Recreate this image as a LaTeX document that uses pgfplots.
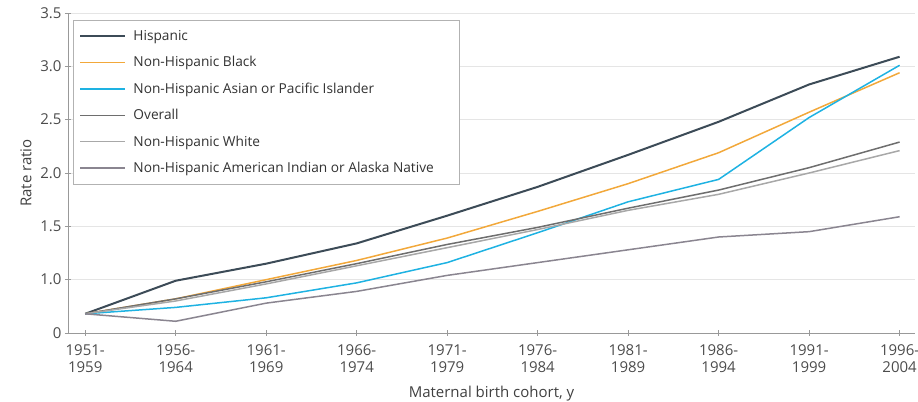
\documentclass[border=0pt]{standalone}
\usepackage{pgfplots}
\pgfplotsset{compat=1.18}
\usepackage{fontspec}
\setmainfont{Open Sans}
\definecolor{hisp}{HTML}{3C4B57}
\definecolor{blk}{HTML}{F2A83A}
\definecolor{asn}{HTML}{1EB2E2}
\definecolor{ovr}{HTML}{6E6E6E}
\definecolor{wht}{HTML}{A8A8A8}
\definecolor{aian}{HTML}{8A8590}
\begin{document}
\begin{tikzpicture}
\begin{axis}[
  scale only axis, width=847pt, height=320pt,
  xmin=-0.19, xmax=9.17, ymin=0.5, ymax=3.5,
  axis lines=left, axis line style={gray!80, line width=0.8pt, -},
  xtick={0,...,9},
  xticklabels={{1951-\\1959},{1956-\\1964},{1961-\\1969},{1966-\\1974},{1971-\\1979},{1976-\\1984},{1981-\\1989},{1986-\\1994},{1991-\\1999},{1996-\\2004}},
  xticklabel style={align=center, font=\fontsize{15}{17.5}\selectfont, text=black!70, yshift=-5pt},
  ytick={0.5,1,1.5,2,2.5,3,3.5},
  yticklabels={0,1.0,1.5,2.0,2.5,3.0,3.5},
  yticklabel style={font=\fontsize{15}{17}\selectfont, text=black!70},
  tick style={gray!80, line width=0.6pt},
  tick align=center, major tick length=6pt,
  ymajorgrids, grid style={gray!20, line width=0.8pt},
  xlabel={Maternal birth cohort, y}, ylabel={Rate ratio},
  label style={font=\fontsize{15}{17}\selectfont, text=black!75},
  xlabel style={yshift=-6pt},
  ylabel style={yshift=2pt},
  legend cell align=left,
  legend style={at={(rel axis cs:0.006,0.978)}, anchor=north west, draw=gray!60, line width=0.8pt,
    font=\fontsize{13.7}{15}\selectfont, text=black!80, row sep=10.5pt, inner xsep=6pt, inner ysep=8pt},
  legend image code/.code={\draw[#1] (0pt,0pt) -- (45pt,0pt); \path (50pt,0pt);},
  every axis plot/.append style={line width=1.5pt},
  clip=false,
]
\addplot[hisp, line width=2pt] coordinates {(0,0.68)(1,0.99)(2,1.15)(3,1.34)(4,1.60)(5,1.87)(6,2.17)(7,2.48)(8,2.83)(9,3.09)};
\addlegendentry{Hispanic}
\addplot[blk] coordinates {(0,0.68)(1,0.82)(2,1.00)(3,1.18)(4,1.39)(5,1.64)(6,1.90)(7,2.19)(8,2.57)(9,2.94)};
\addlegendentry{Non-Hispanic Black}
\addplot[asn] coordinates {(0,0.68)(1,0.74)(2,0.83)(3,0.97)(4,1.16)(5,1.44)(6,1.73)(7,1.94)(8,2.52)(9,3.01)};
\addlegendentry{Non-Hispanic Asian or Pacific Islander}
\addplot[ovr] coordinates {(0,0.68)(1,0.82)(2,0.98)(3,1.15)(4,1.33)(5,1.49)(6,1.67)(7,1.84)(8,2.05)(9,2.29)};
\addlegendentry{Overall}
\addplot[wht] coordinates {(0,0.68)(1,0.80)(2,0.96)(3,1.13)(4,1.30)(5,1.47)(6,1.65)(7,1.80)(8,2.00)(9,2.21)};
\addlegendentry{Non-Hispanic White}
\addplot[aian] coordinates {(0,0.68)(1,0.61)(2,0.78)(3,0.89)(4,1.04)(5,1.16)(6,1.28)(7,1.40)(8,1.45)(9,1.59)};
\addlegendentry{Non-Hispanic American Indian or Alaska Native\rule{18pt}{0pt}}
\end{axis}
\pgfresetboundingbox
\path ([shift={(-68pt,-69pt)}]current axis.south west) rectangle ([shift={(3pt,13pt)}]current axis.north east);
\end{tikzpicture}
\end{document}
